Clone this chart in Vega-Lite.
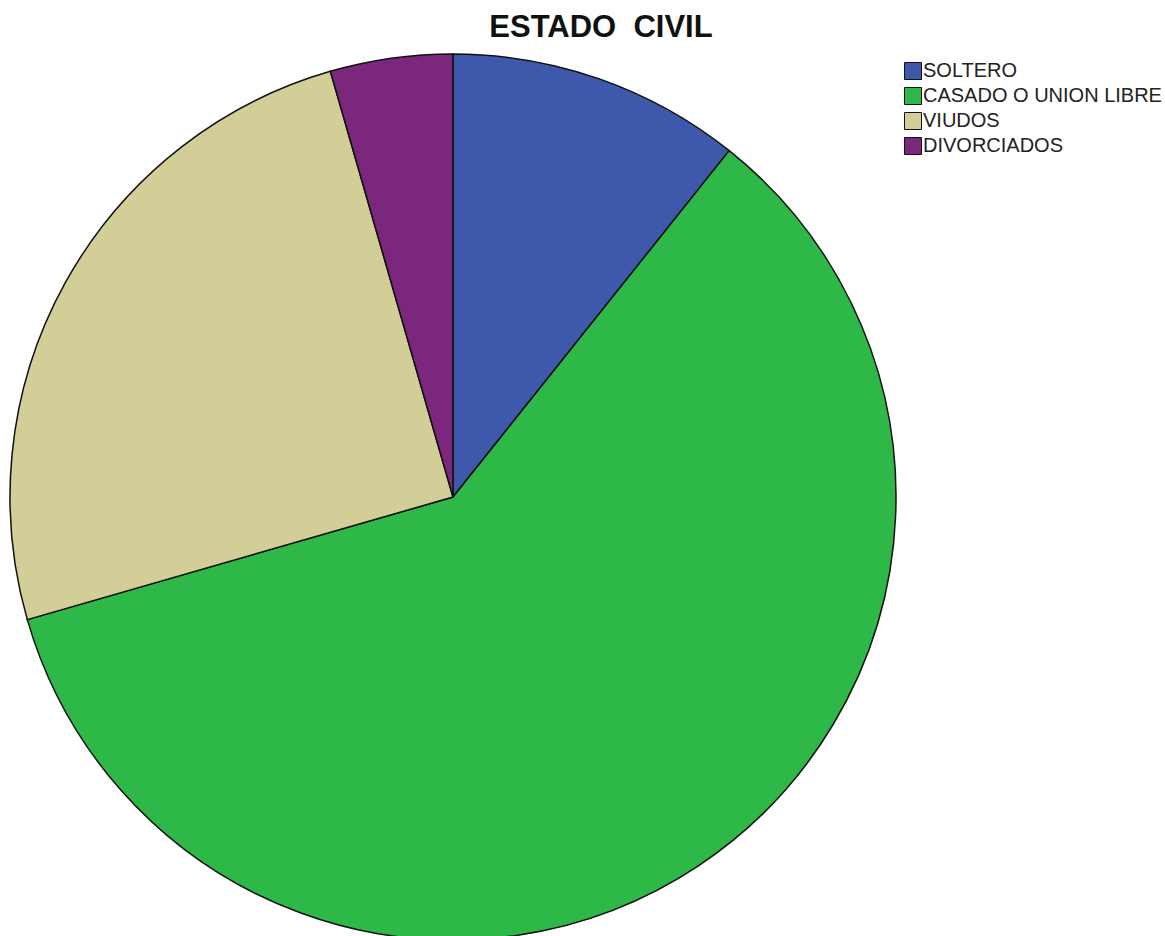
{
  "$schema": "https://vega.github.io/schema/vega-lite/v6.json",
  "autosize": "none",
  "padding": {"left": 0, "top": 0, "right": 259, "bottom": 0},
  "width": 906,
  "height": 994,
  "background": "white",
  "title": {
    "text": "ESTADO\u00a0 CIVIL",
    "font": "Liberation Sans",
    "fontSize": 31,
    "fontWeight": "bold",
    "color": "#111111",
    "anchor": "middle",
    "offset": -44,
    "dx": 148
  },
  "data": {
    "values": [
      {"estado": "SOLTERO", "n": 12, "orden": 1},
      {"estado": "CASADO O UNION LIBRE", "n": 67, "orden": 2},
      {"estado": "VIUDOS", "n": 28, "orden": 3},
      {"estado": "DIVORCIADOS", "n": 5, "orden": 4}
    ]
  },
  "mark": {"type": "arc", "outerRadius": 443, "stroke": "#111111", "strokeWidth": 1.5},
  "encoding": {
    "theta": {"field": "n", "type": "quantitative", "stack": true},
    "order": {"field": "orden", "type": "quantitative"},
    "color": {
      "field": "estado",
      "type": "nominal",
      "sort": ["SOLTERO", "CASADO O UNION LIBRE", "VIUDOS", "DIVORCIADOS"],
      "scale": {
        "domain": ["SOLTERO", "CASADO O UNION LIBRE", "VIUDOS", "DIVORCIADOS"],
        "range": ["#3E58AC", "#2EB848", "#D3CE97", "#7B277D"]
      },
      "legend": {
        "title": null,
        "orient": "none",
        "legendX": 903,
        "legendY": 61,
        "symbolType": "square",
        "symbolSize": 289,
        "symbolStrokeColor": "#111111",
        "symbolStrokeWidth": 1,
        "symbolOpacity": 1,
        "labelFont": "Liberation Sans",
        "labelFontSize": 20,
        "labelColor": "#222222",
        "labelOffset": 0,
        "rowPadding": 3,
        "labelLimit": 400
      }
    }
  }
}
